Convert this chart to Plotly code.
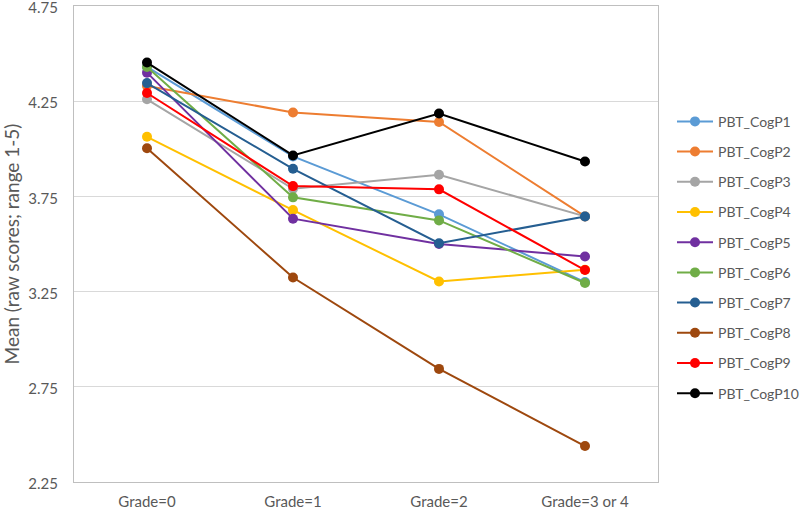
import plotly.graph_objects as go

categories = ["Grade=0", "Grade=1", "Grade=2", "Grade=3 or 4"]
series_names = ["PBT_CogP1", "PBT_CogP2", "PBT_CogP3", "PBT_CogP4", "PBT_CogP5",
                "PBT_CogP6", "PBT_CogP7", "PBT_CogP8", "PBT_CogP9", "PBT_CogP10"]
p1 = [4.43, 3.96, 3.656, 3.30]
p2 = [4.33, 4.191, 4.141, 3.645]
p3 = [4.26, 3.79, 3.864, 3.645]
p4 = [4.063, 3.678, 3.303, 3.365]
p5 = [4.40, 3.633, 3.50, 3.434]
p6 = [4.43, 3.745, 3.624, 3.295]
p7 = [4.345, 3.895, 3.504, 3.644]
p8 = [4.003, 3.324, 2.844, 2.439]
p9 = [4.293, 3.804, 3.787, 3.363]
p10 = [4.453, 3.965, 4.185, 3.933]
values = [p1, p2, p3, p4, p5, p6, p7, p8, p9, p10]
colors = ["#5B9BD5", "#ED7D31", "#A5A5A5", "#FFC000", "#7030A0",
          "#70AD47", "#255E91", "#9E480E", "#FF0000", "#000000"]
y_ticks = [2.25, 2.75, 3.25, 3.75, 4.25, 4.75]

FONT = "Lato, 'Liberation Sans', sans-serif"
fig = go.Figure()
for i, (name, vals, col) in enumerate(zip(series_names, values, colors)):
    fig.add_trace(go.Scatter(
        x=categories, y=vals, name=name, mode="lines+markers",
        line=dict(color=col, width=2),
        marker=dict(color=col, size=10),
        legendgroup=name,
    ))

fig.update_layout(
    width=800, height=511,
    margin=dict(l=74, r=142, t=6, b=29, autoexpand=False),
    paper_bgcolor="white", plot_bgcolor="white",
    font=dict(family=FONT, size=14, color="#595959"),
    showlegend=True,
    legend=dict(
        xref="container", yref="container",
        x=0.84, y=0.793, xanchor="left", yanchor="top",
        font=dict(family=FONT, size=14, color="#595959"),
        tracegroupgap=9, itemwidth=36, maxheight=500,
        bgcolor="rgba(0,0,0,0)",
    ),
    xaxis=dict(
        showgrid=False, showline=True, linecolor="#BFBFBF", linewidth=1, mirror=True,
        tickfont=dict(family=FONT, size=15, color="#595959"),
        range=[-0.5, 3.5], ticklabelstandoff=6, automargin=False,
        ticklabeloverflow="allow",
    ),
    yaxis=dict(
        range=[2.25, 4.75], tickvals=y_ticks, ticktext=[f"{v:.2f}" for v in y_ticks],
        showgrid=True, gridcolor="#D9D9D9", gridwidth=1,
        showline=True, linecolor="#BFBFBF", linewidth=1, mirror=True,
        zeroline=False, automargin=False, ticklabeloverflow="allow",
        tickfont=dict(family=FONT, size=15, color="#595959"),
        ticklabelstandoff=12, ticklabelshift=2,
        title=dict(text="Mean (raw scores; range 1-5)", standoff=4,
                   font=dict(family=FONT, size=19, color="#595959")),
    ),
)

fig.write_html("out.html", config={"displayModeBar": False},
               post_script="document.body.style.margin='0';")
